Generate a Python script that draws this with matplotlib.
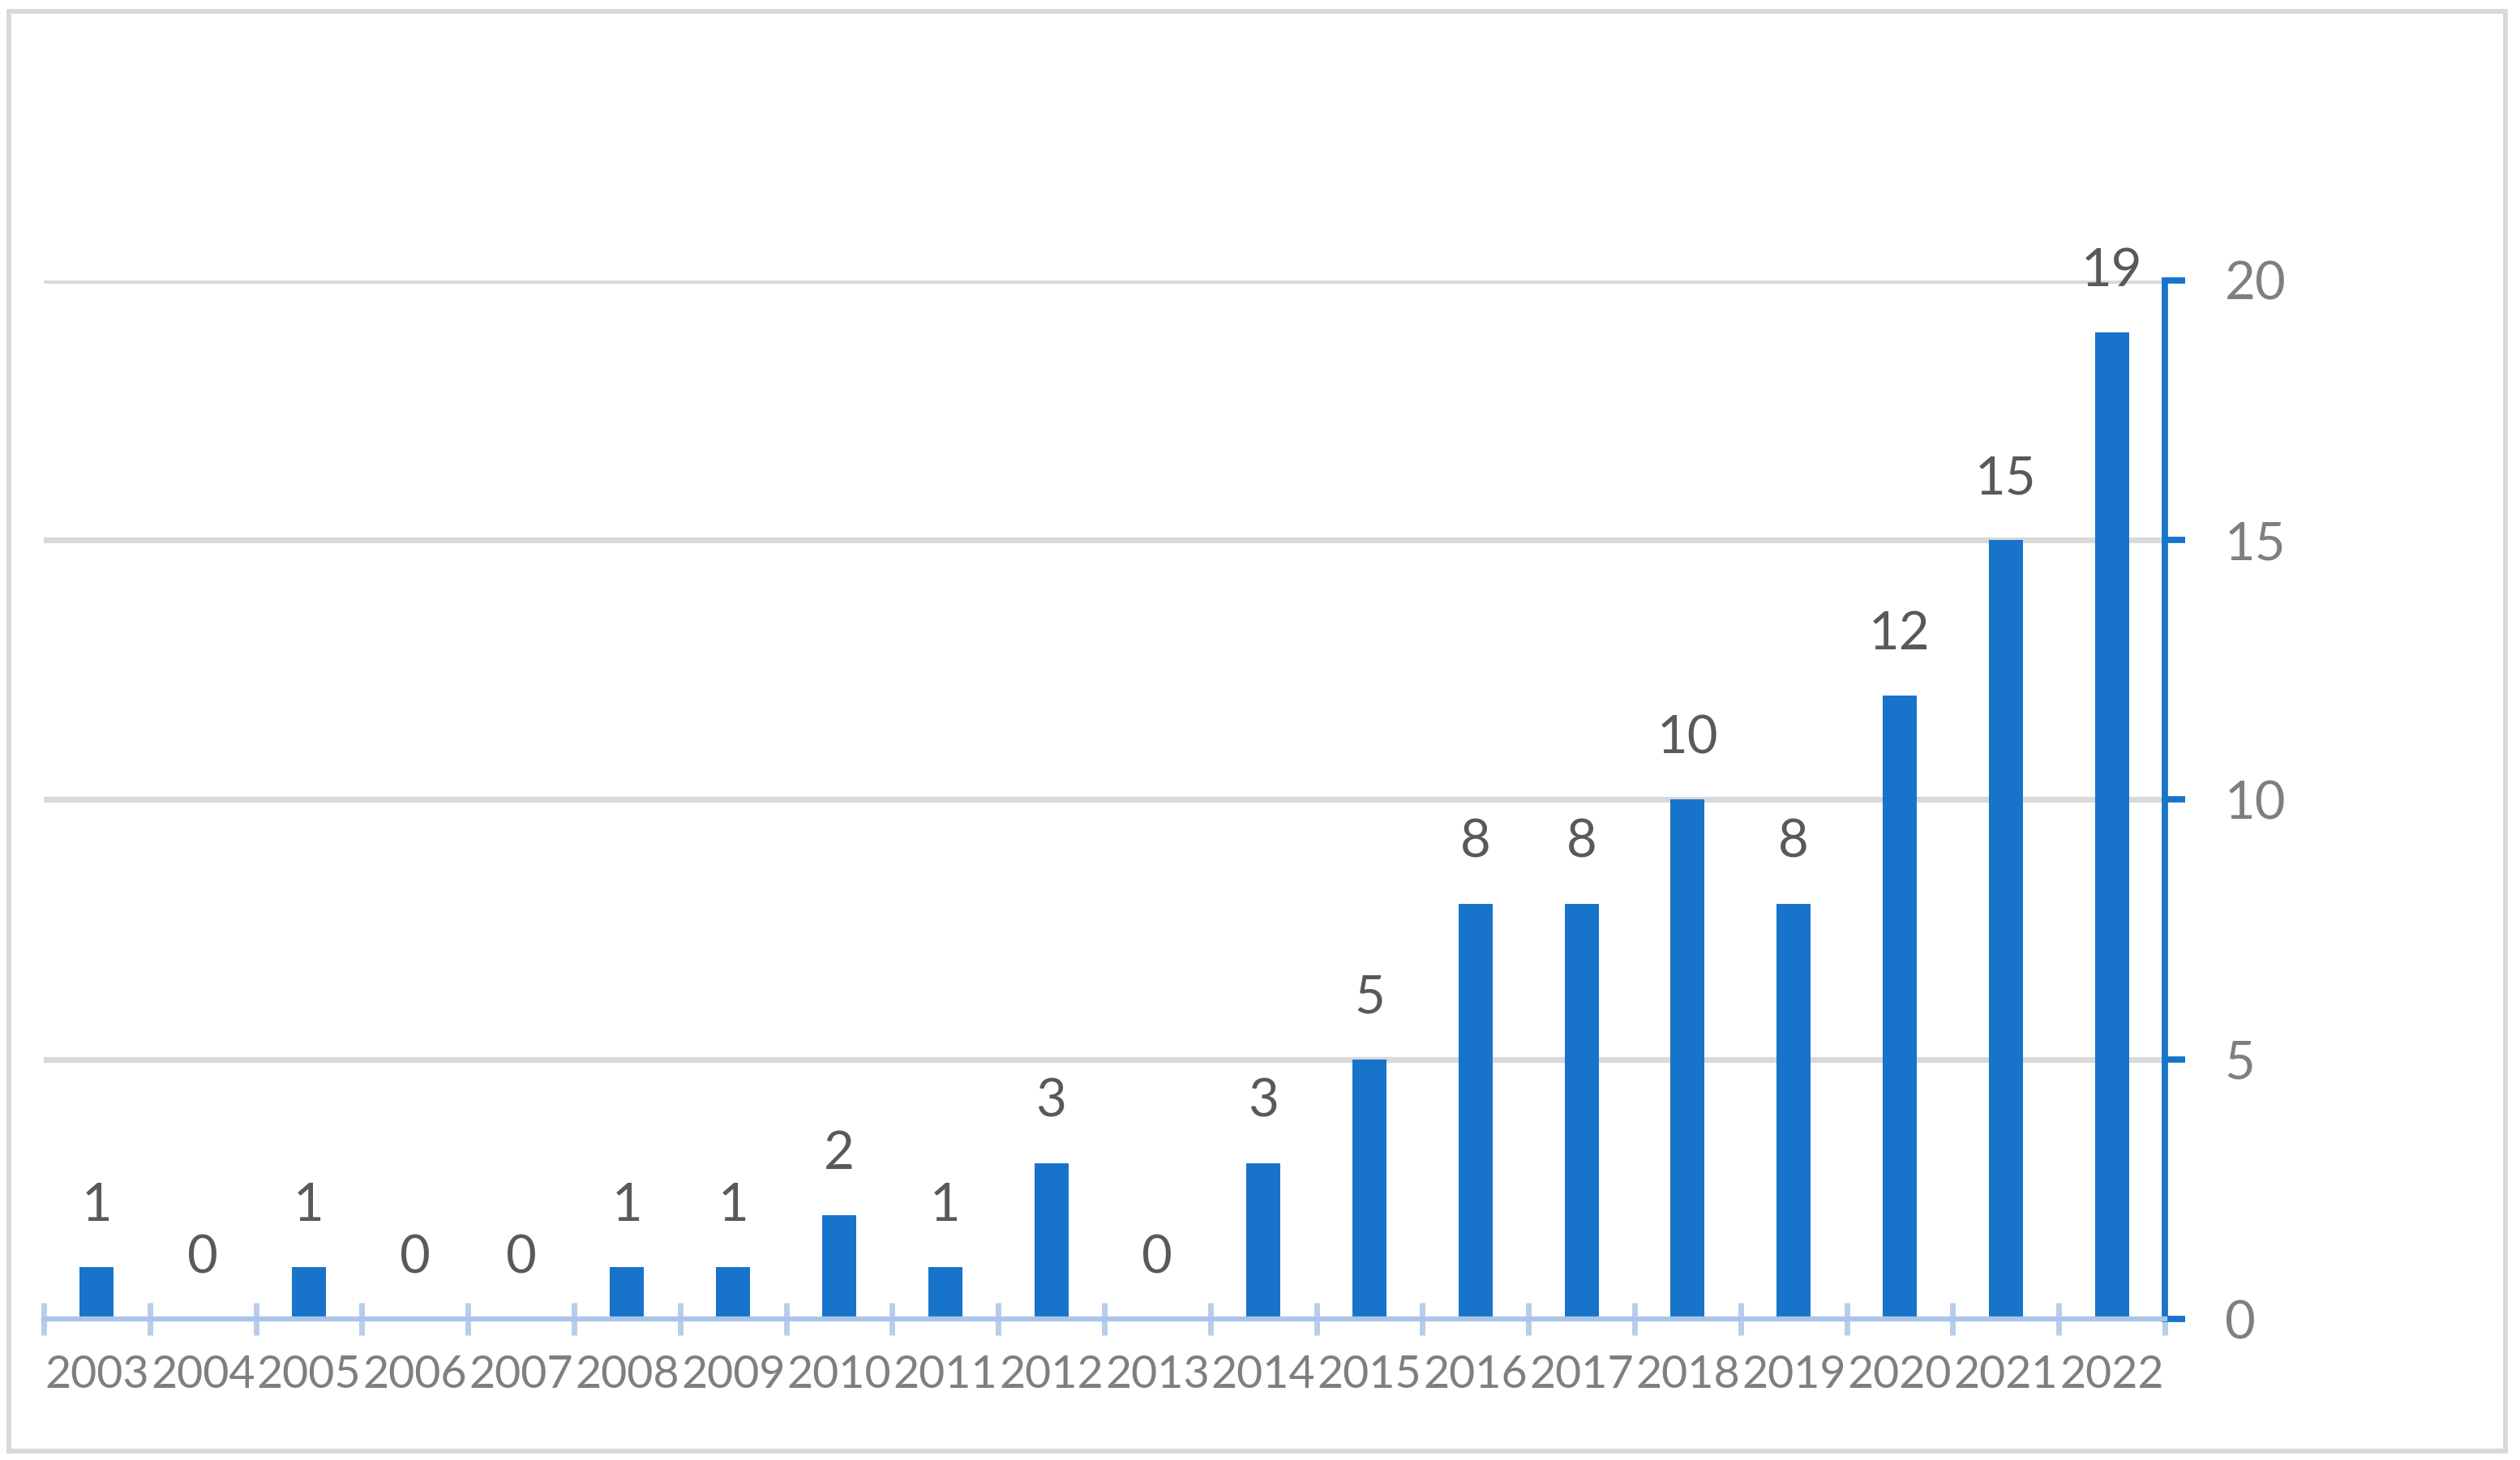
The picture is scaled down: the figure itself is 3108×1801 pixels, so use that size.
import matplotlib
matplotlib.use("Agg")
import matplotlib.pyplot as plt
from matplotlib.patches import Rectangle
import numpy as np

years = ["2003", "2004", "2005", "2006", "2007", "2008", "2009", "2010", "2011", "2012",
         "2013", "2014", "2015", "2016", "2017", "2018", "2019", "2020", "2021", "2022"]
counts = [1, 0, 1, 0, 0, 1, 1, 2, 1, 3, 0, 3, 5, 8, 8, 10, 8, 12, 15, 19]
y_ticks = [0, 5, 10, 15, 20]

plt.rcParams['font.family'] = ['Lato', 'DejaVu Sans']

W, H = 3108, 1801
DPI = 100
fig = plt.figure(figsize=(W / DPI, H / DPI), dpi=DPI)
fig.patch.set_facecolor('white')

# outer frame
fr_l, fr_r, fr_t, fr_b = 11, 3090, 14.5, 1790
fig.add_artist(Rectangle((fr_l / W, 1 - fr_b / H), (fr_r - fr_l) / W, (fr_b - fr_t) / H,
                         transform=fig.transFigure, fill=False, edgecolor='#d9d9d9',
                         linewidth=4.3))

ax_l, ax_r, ax_t, ax_b = 54, 2670, 346, 1627
ax = fig.add_axes([ax_l / W, 1 - ax_b / H, (ax_r - ax_l) / W, (ax_b - ax_t) / H])

BLUE = '#1874CB'
x = np.arange(len(years))
bars = ax.bar(x, counts, width=0.32, color=BLUE, zorder=3)

ax.set_xlim(-0.5, len(years) - 0.5)
ax.set_ylim(0, 20)

# gridlines
ax.set_yticks(y_ticks)
for v in y_ticks[1:]:
    ax.axhline(v, color='#d9d9d9', linewidth=5.2, zorder=1)

# spines
for s in ['left', 'top']:
    ax.spines[s].set_visible(False)
ax.spines['right'].set_color(BLUE)
ax.spines['right'].set_linewidth(5.6)
ax.spines['bottom'].set_color('#aac5ea')
ax.spines['bottom'].set_linewidth(4.5)
ax.spines['bottom'].set_zorder(4)

# y axis on right
ax.yaxis.tick_right()
ax.tick_params(axis='y', which='major', direction='out', length=18, width=5.6,
               color=BLUE, pad=35, labelsize=47, labelcolor='#7f7f7f')
ax.tick_params(axis='y', left=False)

# x axis: labels at centers, ticks at boundaries
ax.set_xticks(x)
ax.set_xticklabels(years)
ax.tick_params(axis='x', which='major', length=0, pad=31.5, labelsize=40,
               labelcolor='#7f7f7f')
ax.set_xticks(np.arange(-0.5, len(years), 1.0), minor=True)
ax.tick_params(axis='x', which='minor', direction='inout', length=29, width=5,
               color='#b9cdea')

# bar labels
for xi, v in zip(x, counts):
    ax.annotate(str(v), (xi, v), xytext=(0, 41), textcoords='offset points',
                ha='center', va='baseline', fontsize=47, color='#595959',
                annotation_clip=False, zorder=5)

fig.savefig('out.png', dpi=DPI, facecolor='white')
